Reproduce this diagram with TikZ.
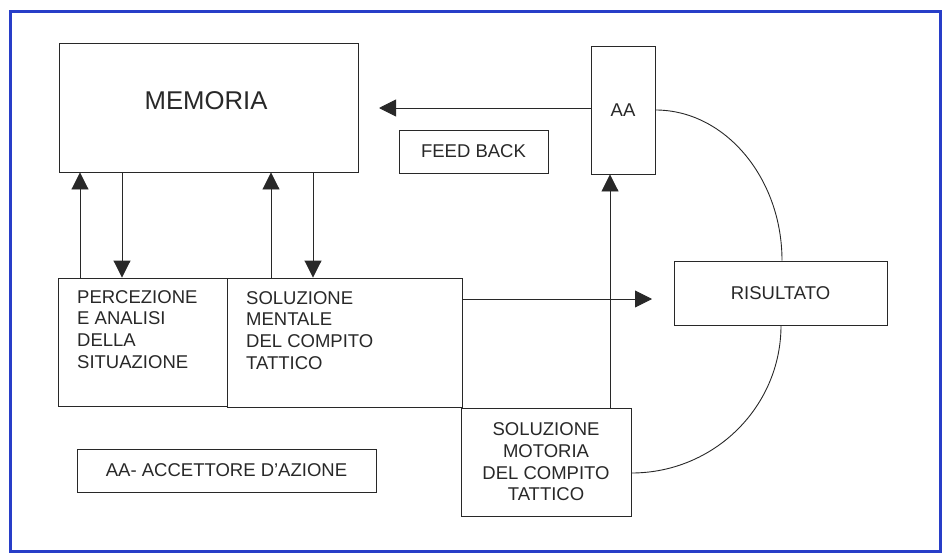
\documentclass[tikz,border=0pt]{standalone}
\usepackage{fontspec}
\setmainfont{Liberation Sans}
\usetikzlibrary{arrows.meta}
\definecolor{frameblue}{RGB}{40,62,200}
\definecolor{ink}{RGB}{40,40,40}
\begin{document}
\begin{tikzpicture}[x=1pt,y=-1pt,
  box/.style={draw=ink, line width=0.9pt, rectangle, inner sep=0pt, text=ink,
    font=\fontsize{18.5}{21.7}\selectfont},
  txt/.style={inner sep=0pt, text=ink, font=\fontsize{18.5}{21.7}\selectfont},
  arr/.style={draw=ink, line width=0.9pt, -{Triangle[length=17pt,width=17pt]}},
  conn/.style={draw=ink, line width=0.9pt}]
\useasboundingbox (0,0) rectangle (944,554);
\draw[frameblue, line width=3pt] (10,11) rectangle (940,551);

% boxes
\node[box, minimum width=299pt, minimum height=129pt] (mem) at (208.5,107.5) {};
\node[txt, font=\fontsize{25.7}{30}\selectfont] (memt) at (206,101) {MEMORIA};
\node[box, minimum width=149pt, minimum height=43pt] (fb) at (473.5,151.5) {FEED BACK};
\node[box, minimum width=64pt, minimum height=128pt] (aa) at (623,110) {AA};
\node[box, minimum width=169pt, minimum height=128pt] (perc) at (142.5,342) {};
\node[txt, align=left, anchor=north west] (perct) at (77,290)
  {PERCEZIONE\\E ANALISI\\DELLA\\SITUAZIONE};
\node[box, minimum width=235pt, minimum height=129pt] (ment) at (344.5,342.5) {};
\node[txt, align=left, anchor=north west] (mentt) at (246,291)
  {SOLUZIONE\\MENTALE\\DEL COMPITO\\TATTICO};
\node[box, minimum width=213pt, minimum height=64pt] (ris) at (780.5,293) {RISULTATO};
\node[box, minimum width=170pt, minimum height=108pt, align=center] (mot) at (546,462)
  {SOLUZIONE\\MOTORIA\\DEL COMPITO\\TATTICO};
\node[box, minimum width=299pt, minimum height=43pt] (acc) at (226.5,470.5) {AA- ACCETTORE D'AZIONE};

% free arrow ends
\coordinate (fbtip) at (379,108);
\coordinate (ristip) at (652,299);

% connectors
\draw[arr] (aa.west |- 0,108) -- (fbtip);
\draw[arr] (perc.north -| 80,0) -- (mem.south -| 80,0);
\draw[arr] (mem.south -| 122,0) -- (perc.north -| 122,0);
\draw[arr] (ment.north -| 271,0) -- (mem.south -| 271,0);
\draw[arr] (mem.south -| 313,0) -- (ment.north -| 313,0);
\draw[arr] (ment.east |- 0,299) -- (ristip);
\draw[arr] (mot.north -| 610,0) -- (aa.south -| 610,0);
\draw[conn] (aa.east |- 0,110) .. controls (725,110) and (782,178) .. (ris.north -| 782,0);
\draw[conn] (ris.south -| 781,0) .. controls (781,407) and (714,473) .. (mot.east |- 0,473);
\end{tikzpicture}
\end{document}
